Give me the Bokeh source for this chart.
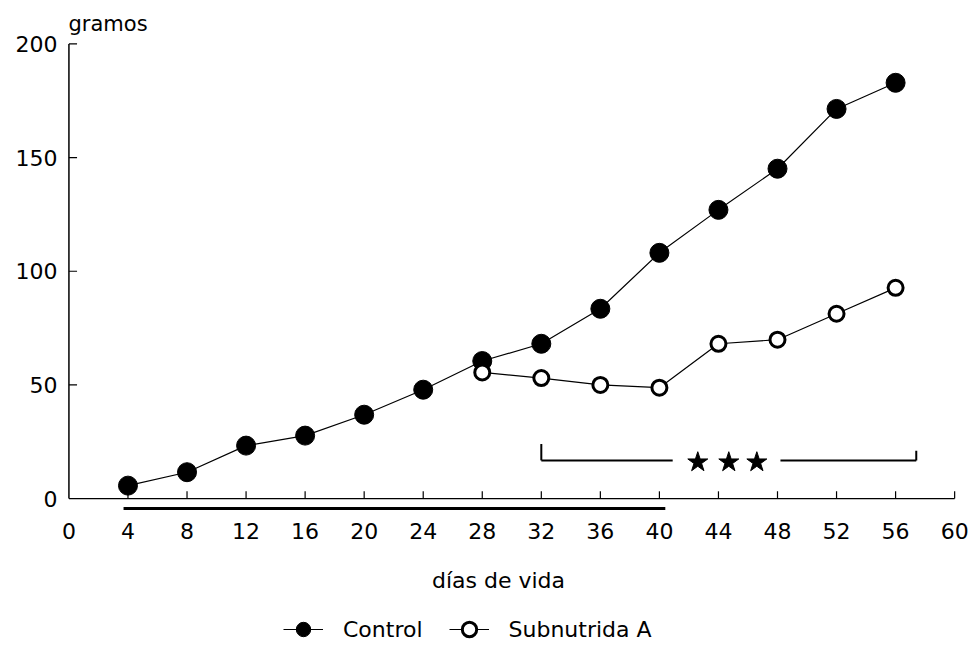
from bokeh.plotting import figure
from bokeh.models import Range1d, FixedTicker, Legend, LegendItem, Label
from bokeh.layouts import column
from bokeh.embed import file_html
from bokeh.resources import INLINE

# ---------------- data ----------------
days = [4, 8, 12, 16, 20, 24, 28, 32, 36, 40, 44, 48, 52, 56]
control = [5.7, 11.6, 23.3, 27.7, 36.9, 47.9, 60.5, 68.1, 83.5, 108.1, 127.0, 145.1, 171.4, 182.9]
sub_days = [28, 32, 36, 40, 44, 48, 52, 56]
subnutrida = [55.5, 53.0, 50.0, 48.8, 68.1, 69.9, 81.3, 92.7]
x_ticks = [0, 4, 8, 12, 16, 20, 24, 28, 32, 36, 40, 44, 48, 52, 56, 60]
y_ticks = [0, 50, 100, 150, 200]
period = [3.7, 40.4]            # underline bar (days)
period_level = -4.4
bracket_left = 32.0
bracket_right = 57.4
bracket_gap = [40.9, 48.2]
bracket_level = 16.8
bracket_left_top = 24.0
bracket_right_top = 21.0
star_days = [42.6, 44.7, 46.6]
star_level = 16.0

FONT = "DejaVu Sans"
X_RANGE = (-0.3, 60.6)
NAN = float("nan")

p = figure(width=970, height=550, output_backend="svg", toolbar_location=None,
           x_range=Range1d(*X_RANGE), y_range=Range1d(-7, 201.5),
           min_border_left=64, min_border_right=7, min_border_top=40, min_border_bottom=36)
p.grid.visible = False
p.outline_line_color = None
p.background_fill_color = "white"

# title as y unit label
p.title.text = "gramos"
p.title.text_font = FONT
p.title.text_font_size = "21px"
p.title.text_font_style = "normal"
p.title.text_color = "black"
p.title.align = "left"
p.title.offset = 4
p.title.standoff = 9

# axes: labels only, lines drawn manually
for ax in (p.xaxis[0], p.yaxis[0]):
    ax.axis_line_color = None
    ax.major_tick_line_color = None
    ax.minor_tick_line_color = None
    ax.major_tick_in = 0
    ax.major_tick_out = 0
    ax.major_label_text_font = FONT
    ax.major_label_text_font_size = "22px"
    ax.major_label_text_color = "black"
p.xaxis.ticker = FixedTicker(ticks=x_ticks)
p.yaxis.ticker = FixedTicker(ticks=y_ticks)
p.xaxis.major_label_standoff = 8
p.yaxis.major_label_standoff = 7

# axis lines and inward ticks
xmin, xmax = x_ticks[0], x_ticks[-1]
ymin, ymax = y_ticks[0], y_ticks[-1]
p.segment(x0=[xmin], y0=[ymin], x1=[xmax], y1=[ymin], line_color="black", line_width=1.2)
p.segment(x0=[xmin], y0=[ymin], x1=[xmin], y1=[ymax], line_color="black", line_width=1.5)
xt = x_ticks[1:]
p.segment(x0=xt, y0=[ymin] * len(xt), x1=xt, y1=[ymin + 3.2] * len(xt), line_color="black", line_width=1.2)
yt = y_ticks[1:]
p.segment(x0=[xmin] * len(yt), y0=yt, x1=[xmin + 0.55] * len(yt), y1=yt, line_color="black", line_width=1.2)

# underline bar (period)
p.segment(x0=[period[0]], y0=[period_level], x1=[period[1]], y1=[period_level], line_color="black", line_width=3)

# significance bracket
p.segment(x0=[bracket_left, bracket_gap[1], bracket_left, bracket_right],
          y0=[bracket_level, bracket_level, bracket_level, bracket_level],
          x1=[bracket_gap[0], bracket_right, bracket_left, bracket_right],
          y1=[bracket_level, bracket_level, bracket_left_top, bracket_right_top],
          line_color="black", line_width=2)
p.scatter(x=star_days, y=[star_level] * len(star_days), marker="star", size=21,
          fill_color="black", line_color="black")

# series
ctrl_line = dict(line_color="black", line_width=1.2)
ctrl_mark = dict(size=19, marker="circle", fill_color="black", line_color="black")
sub_line = dict(line_color="black", line_width=1.2)
sub_mark = dict(size=15, marker="circle", fill_color="white", line_color="black", line_width=3)
p.line(days, control, **ctrl_line)
p.scatter(days, control, **ctrl_mark)
p.line(sub_days, subnutrida, **sub_line)
p.scatter(sub_days, subnutrida, **sub_mark)

# ---------------- lower strip: x-axis title and legend ----------------
p2 = figure(width=970, height=106, output_backend="svg", toolbar_location=None,
            x_range=Range1d(*X_RANGE), y_range=Range1d(0, 106),
            x_axis_type=None, y_axis_type=None,
            min_border_left=64, min_border_right=7, min_border_top=0, min_border_bottom=0)
p2.grid.visible = False
p2.outline_line_color = None
p2.add_layout(Label(x=29.1, y=76, text="días de vida", text_font=FONT, text_font_size="22px",
                    text_color="black", text_align="center", text_baseline="middle"))
# legend proxies (undrawn NaN points, used only for the legend keys)
k1 = p2.line(x=[NAN, NAN], y=[NAN, NAN], **ctrl_line)
k2 = p2.scatter(x=[NAN], y=[NAN], **ctrl_mark)
k3 = p2.line(x=[NAN, NAN], y=[NAN, NAN], **sub_line)
k4 = p2.scatter(x=[NAN], y=[NAN], **sub_mark)
legend = Legend(items=[LegendItem(label="Control", renderers=[k1, k2]),
                       LegendItem(label="Subnutrida A", renderers=[k3, k4])],
                orientation="horizontal", location=(219, 9),
                glyph_width=40, glyph_height=36, label_standoff=20, spacing=26,
                label_text_font=FONT, label_text_font_size="22px", label_text_color="black",
                border_line_color=None, background_fill_alpha=0, padding=2, margin=0)
p2.add_layout(legend)

layout = column(p, p2, spacing=0)
open("out.html", "w").write(file_html(layout, INLINE))
